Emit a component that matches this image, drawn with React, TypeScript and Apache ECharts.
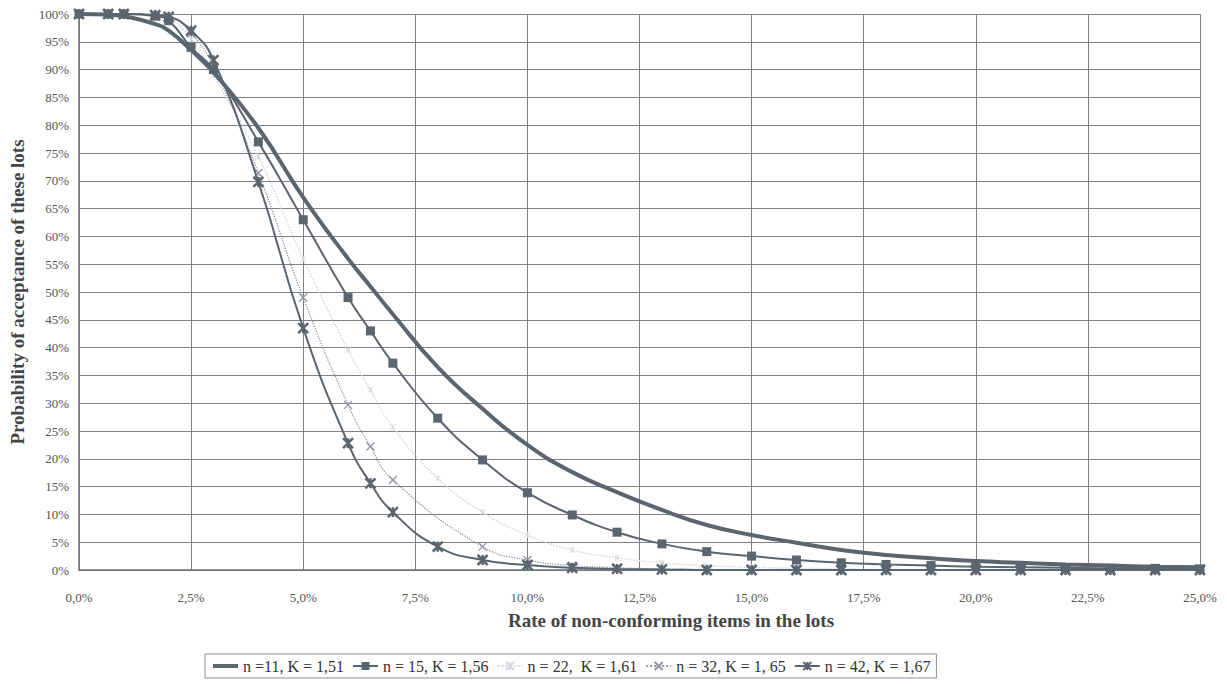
import React, { useEffect, useRef } from "react";
import * as echarts from "echarts";

const xValues = [0, 0.65, 1, 1.7, 2, 2.5, 3, 4, 5, 6, 6.5, 7, 8, 9, 10, 11, 12, 13, 14, 15, 16, 17, 18, 19, 20, 21, 22, 23, 24, 25];

const n11 = [100, 99.9, 99.6, 98.2, 97, 93.5, 89.5, 79.5, 67, 56, 51, 46, 36.5, 29, 22.5, 17.6, 14, 10.8, 8.1, 6.3, 4.9, 3.6, 2.7, 2.1, 1.6, 1.3, 1.0, 0.8, 0.6, 0.5];
const n15 = [100, 100, 100, 99.6, 98.8, 94, 90, 77, 63, 49, 43, 37.2, 27.3, 19.8, 13.9, 9.9, 6.8, 4.7, 3.3, 2.5, 1.8, 1.3, 1.0, 0.8, 0.6, 0.5, 0.4, 0.3, 0.3, 0.2];
const n22 = [100, 100, 100, 99.7, 99.2, 95.5, 89, 74.3, 56, 39.6, 32.4, 25.7, 16.5, 10.4, 6.3, 3.6, 2.2, 1.3, 0.8, 0.5, 0.3, 0.2, 0.1, 0.1, 0, 0, 0, 0, 0, 0];
const n32 = [100, 100, 100, 99.8, 99.5, 96.5, 90.5, 71.4, 49, 29.7, 22.2, 16.2, null, 4.2, 1.8, 0.8, 0.4, 0.2, 0.1, 0, 0, 0, 0, 0, 0, 0, 0, 0, 0, 0];
const n42 = [100, 100, 100, 99.8, 99.5, 97, 91.7, 69.8, 43.5, 22.8, 15.6, 10.4, 4.2, 1.8, 0.9, 0.4, 0.2, 0.1, 0, 0, 0, 0, 0, 0, 0, 0, 0, 0, 0, 0];

const seriesNames = [
  "n =11, K = 1,51",
  "n = 15, K = 1,56",
  "n = 22,  K = 1,61",
  "n = 32, K = 1, 65",
  "n = 42, K = 1,67",
];

const xTitle = "Rate of non-conforming items in the lots";
const yTitle = "Probability of acceptance of these lots";

const SERIF = "'Liberation Serif', 'DejaVu Serif', serif";
const DARK = "#5b6570";
const FAINT = "#d3d8dc";
const MID = "#8d959d";

const pair = (arr: (number | null)[]) => xValues.map((x, i) => [x, arr[i]]);

const X_SYM = "path://M0,0L10,10M10,0L0,10";
const STAR_SYM = "path://M0,0L10,10M10,0L0,10M5,0L5,10";

export default function App() {
  const ref = useRef<HTMLDivElement>(null);
  useEffect(() => {
    if (!ref.current) return;
    const chart = echarts.init(ref.current, undefined, { renderer: "svg" });
    chart.setOption({
      animation: false,
      backgroundColor: "#ffffff",
      textStyle: { fontFamily: SERIF },
      grid: { left: 75, right: 27, top: 14, bottom: 115 },
      legend: {
        left: 205,
        top: 654,
        orient: "horizontal",
        borderColor: "#8a8f95",
        borderWidth: 1,
        padding: [4, 6],
        itemGap: 8,
        itemWidth: 25,
        itemHeight: 10,
        textStyle: { fontFamily: SERIF, fontSize: 16, color: "#333" },
        data: [
          {
            name: seriesNames[0],
            itemStyle: { color: "rgba(0,0,0,0)", borderWidth: 0 },
            lineStyle: { color: DARK, width: 4 },
          },
          seriesNames[1],
          seriesNames[2],
          seriesNames[3],
          seriesNames[4],
        ],
      },
      graphic: [
        {
          type: "text",
          x: 671,
          y: 620,
          style: {
            text: xTitle,
            fontFamily: SERIF,
            fontSize: 19,
            fontWeight: "bold",
            fill: "#444",
            align: "center",
            verticalAlign: "middle",
          },
        },
      ],
      xAxis: {
        type: "value",
        min: 0,
        max: 25,
        interval: 2.5,
        axisLine: { show: true, lineStyle: { color: "#6c737a", width: 1.5 } },
        axisTick: { show: true, inside: true, length: 4, lineStyle: { color: "#6c737a" } },
        axisLabel: {
          margin: 21,
          fontFamily: SERIF,
          fontSize: 13,
          color: "#555",
          formatter: (v: number) => v.toFixed(1).replace(".", ",") + "%",
        },
        splitLine: { show: true, lineStyle: { color: "#7a8189", width: 1 } },
      },
      yAxis: {
        type: "value",
        min: 0,
        max: 100,
        interval: 5,
        name: yTitle,
        nameLocation: "middle",
        nameGap: 52,
        nameTextStyle: { fontFamily: SERIF, fontSize: 19, fontWeight: "bold", color: "#444" },
        axisLine: { show: true, lineStyle: { color: "#6c737a", width: 1.5 } },
        axisTick: { show: false },
        axisLabel: {
          margin: 10,
          fontFamily: SERIF,
          fontSize: 13,
          color: "#555",
          formatter: (v: number) => v + "%",
        },
        splitLine: { show: true, lineStyle: { color: "#7a8189", width: 1 } },
      },
      series: [
        {
          name: seriesNames[0],
          type: "line",
          smooth: true,
          symbol: "none",
          data: pair(n11),
          lineStyle: { color: DARK, width: 4 },
          itemStyle: { color: DARK },
          z: 5,
        },
        {
          name: seriesNames[1],
          type: "line",
          smooth: true,
          symbol: "rect",
          symbolSize: 9,
          data: pair(n15),
          lineStyle: { color: DARK, width: 2 },
          itemStyle: { color: DARK },
          z: 4,
        },
        {
          name: seriesNames[2],
          type: "line",
          smooth: true,
          symbol: STAR_SYM,
          symbolSize: 6,
          data: pair(n22),
          lineStyle: { color: FAINT, width: 1.5, type: "dotted" },
          itemStyle: { color: FAINT, borderColor: FAINT, borderWidth: 1 },
          z: 2,
        },
        {
          name: seriesNames[3],
          type: "line",
          smooth: true,
          connectNulls: true,
          symbol: X_SYM,
          symbolSize: 8,
          data: pair(n32),
          lineStyle: { color: MID, width: 1.3, type: "dotted" },
          itemStyle: { color: MID, borderColor: MID, borderWidth: 1.3 },
          z: 3,
        },
        {
          name: seriesNames[4],
          type: "line",
          smooth: true,
          symbol: STAR_SYM,
          symbolSize: 10,
          data: pair(n42),
          lineStyle: { color: DARK, width: 2 },
          itemStyle: { color: DARK, borderColor: DARK, borderWidth: 2.5 },
          z: 4,
        },
      ],
    });
    return () => chart.dispose();
  }, []);
  return (
    <div
      ref={ref}
      style={{ position: "fixed", left: 0, top: 0, width: 1227, height: 685, background: "#fff" }}
    />
  );
}
